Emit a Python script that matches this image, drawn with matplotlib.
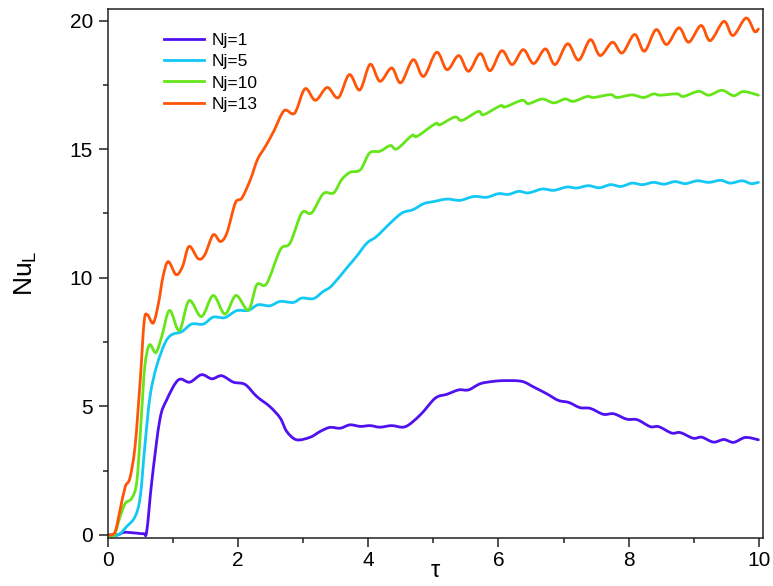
import numpy as np
import matplotlib
matplotlib.use("Agg")
import matplotlib.pyplot as plt
from matplotlib.path import Path
from matplotlib.patches import PathPatch
from matplotlib.lines import Line2D

plt.rcParams['font.family'] = ['Liberation Sans', 'DejaVu Sans']
plt.rcParams['mathtext.fontset'] = 'custom'
plt.rcParams['mathtext.rm'] = 'Liberation Sans'

# ---- data: time tau and Nusselt number for each jet count ----
tau_nj1 = [0.0, 0.15, 0.25, 0.4, 0.55, 0.6, 0.68, 0.80, 0.906, 1.085, 1.26, 1.44, 1.6, 1.75, 1.93,
           2.11, 2.29, 2.49, 2.65, 2.75, 2.9, 3.11, 3.26, 3.41, 3.57, 3.72, 3.88, 4.03, 4.18,
           4.36, 4.57, 4.80, 5.03, 5.21, 5.39, 5.54, 5.72, 5.92, 6.10, 6.36, 6.54, 6.74, 6.92,
           7.08, 7.25, 7.41, 7.61, 7.77, 7.97, 8.13, 8.33, 8.46, 8.66, 8.79, 8.99, 9.12, 9.30,
           9.46, 9.61, 9.79, 9.99]
nu_nj1 = [0.0, 0.0, 0.1, 0.08, 0.05, 0.15, 2.14, 4.47, 5.25, 6.03, 5.94, 6.23, 6.07, 6.19, 5.94,
          5.85, 5.38, 4.99, 4.54, 4.02, 3.70, 3.80, 4.02, 4.18, 4.15, 4.28, 4.22, 4.25, 4.19,
          4.25, 4.21, 4.67, 5.32, 5.47, 5.64, 5.64, 5.88, 5.97, 6.00, 5.97, 5.75, 5.49, 5.23,
          5.15, 4.95, 4.92, 4.69, 4.71, 4.50, 4.48, 4.21, 4.21, 3.96, 3.98, 3.76, 3.80, 3.61,
          3.71, 3.60, 3.79, 3.70]

tau_nj5 = [0.0, 0.16, 0.29, 0.42, 0.50, 0.57, 0.65, 0.75, 0.88, 0.98, 1.14, 1.29, 1.47, 1.62,
           1.80, 1.98, 2.16, 2.31, 2.49, 2.65, 2.85, 2.98, 3.16, 3.31, 3.44, 3.67, 3.82, 3.98,
           4.13, 4.34, 4.52, 4.69, 4.85, 5.0, 5.21, 5.41, 5.62, 5.82, 6.0, 6.15, 6.31, 6.46,
           6.67, 6.85, 7.05, 7.20, 7.38, 7.55, 7.72, 7.88, 8.05, 8.21, 8.38, 8.54, 8.71, 8.87,
           9.05, 9.23, 9.41, 9.56, 9.74, 9.88, 9.99]
nu_nj5 = [0.0, 0.0, 0.32, 0.71, 1.49, 3.44, 5.38, 6.55, 7.46, 7.78, 7.91, 8.20, 8.20, 8.47,
          8.45, 8.72, 8.73, 8.95, 8.91, 9.08, 9.04, 9.21, 9.19, 9.47, 9.69, 10.38, 10.83, 11.35,
          11.61, 12.13, 12.52, 12.65, 12.88, 12.96, 13.06, 13.01, 13.16, 13.13, 13.27, 13.24, 13.36, 13.30,
          13.45, 13.40, 13.53, 13.49, 13.58, 13.50, 13.62, 13.55, 13.68, 13.62, 13.71, 13.64, 13.74, 13.66,
          13.77, 13.71, 13.79, 13.68, 13.77, 13.66, 13.71]

tau_nj10 = [0.0, 0.1, 0.19, 0.27, 0.37, 0.45, 0.52, 0.57, 0.64, 0.74, 0.83, 0.95, 1.10, 1.25,
            1.44, 1.62, 1.80, 1.97, 2.16, 2.29, 2.44, 2.65, 2.80, 2.98, 3.13, 3.31, 3.47, 3.59,
            3.72, 3.88, 4.02, 4.18, 4.34, 4.44, 4.67, 4.75, 5.03, 5.10, 5.33, 5.44, 5.69, 5.77,
            6.03, 6.10, 6.36, 6.46, 6.67, 6.85, 7.02, 7.15, 7.36, 7.46, 7.72, 7.82, 8.05, 8.23,
            8.38, 8.48, 8.74, 8.84, 9.07, 9.23, 9.43, 9.61, 9.76, 9.99]
nu_nj10 = [0.0, 0.0, 0.71, 1.23, 1.43, 2.14, 4.73, 6.55, 7.39, 7.09, 7.72, 8.73, 7.95, 9.11,
           8.49, 9.31, 8.59, 9.31, 8.75, 9.73, 9.77, 11.09, 11.35, 12.52, 12.52, 13.27, 13.30, 13.81,
           14.10, 14.20, 14.85, 14.92, 15.14, 15.01, 15.53, 15.50, 15.99, 15.95, 16.25, 16.12, 16.47, 16.34,
           16.69, 16.64, 16.90, 16.77, 16.95, 16.80, 16.95, 16.86, 17.05, 17.01, 17.12, 17.01, 17.11, 17.01,
           17.15, 17.10, 17.15, 17.05, 17.25, 17.10, 17.29, 17.08, 17.24, 17.10]

tau_nj13 = [0.0, 0.11, 0.19, 0.27, 0.34, 0.42, 0.50, 0.56, 0.61, 0.70, 0.78, 0.85, 0.93, 1.05,
            1.15, 1.25, 1.39, 1.49, 1.62, 1.73, 1.83, 1.96, 2.06, 2.19, 2.30, 2.42, 2.55, 2.71,
            2.87, 3.03, 3.19, 3.37, 3.54, 3.71, 3.87, 4.03, 4.18, 4.36, 4.50, 4.69, 4.85, 5.05,
            5.21, 5.39, 5.54, 5.72, 5.87, 6.05, 6.21, 6.38, 6.54, 6.72, 6.87, 7.06, 7.23, 7.41,
            7.56, 7.75, 7.90, 8.09, 8.24, 8.42, 8.58, 8.77, 8.92, 9.11, 9.25, 9.46, 9.60, 9.80,
            9.93, 9.99]
nu_nj13 = [0.0, 0.1, 0.97, 1.88, 2.2, 3.44, 6.03, 8.30, 8.56, 8.24, 9.01, 10.05, 10.63, 10.12,
           10.44, 11.22, 10.74, 10.89, 11.67, 11.41, 11.74, 12.91, 13.10, 13.81, 14.60, 15.10, 15.70, 16.50,
           16.40, 17.35, 16.90, 17.40, 17.00, 17.90, 17.30, 18.30, 17.64, 18.16, 17.58, 18.48, 17.83, 18.77,
           18.09, 18.64, 18.03, 18.72, 18.05, 18.83, 18.29, 18.87, 18.33, 18.90, 18.29, 19.10, 18.46, 19.26,
           18.64, 19.16, 18.74, 19.46, 18.81, 19.65, 19.07, 19.72, 19.16, 19.81, 19.22, 19.97, 19.42, 20.10,
           19.58, 19.67]

labels = ['Nj=1', 'Nj=5', 'Nj=10', 'Nj=13']
colors = ['#5010F0', '#12C8F5', '#66E61A', '#FF5508']
series = [(tau_nj1, nu_nj1), (tau_nj5, nu_nj5), (tau_nj10, nu_nj10), (tau_nj13, nu_nj13)]


def smooth_path(x, y):
    """Cubic Bezier path through the points (Catmull-Rom tangents)."""
    p = np.column_stack([x, y]).astype(float)
    n = len(p)
    verts = [p[0]]
    codes = [Path.MOVETO]
    for i in range(n - 1):
        p0 = p[i - 1] if i > 0 else p[i]
        p1, p2 = p[i], p[i + 1]
        p3 = p[i + 2] if i + 2 < n else p[i + 1]
        c1 = p1 + (p2 - p0) / 6.0
        c2 = p2 - (p3 - p1) / 6.0
        verts += [c1, c2, p2]
        codes += [Path.CURVE4] * 3
    return Path(verts, codes)


fig = plt.figure(figsize=(7.73, 5.86), dpi=100)
ax = fig.add_axes([0.1393, 0.0819, 0.8477, 0.9027])

for (t, v), c in zip(series, colors):
    patch = PathPatch(smooth_path(t, v), facecolor='none', edgecolor=c, lw=2.0,
                      capstyle='round', joinstyle='round', transform=ax.transData)
    ax.add_patch(patch)

ax.set_xlim(0, 10.06)
ax.set_ylim(-0.12, 20.45)
ax.set_xticks([0, 2, 4, 6, 8, 10])
ax.set_xticks([1, 3, 5, 7, 9], minor=True)
ax.set_yticks([0, 5, 10, 15, 20])
ax.set_yticks([2.5, 7.5, 12.5, 17.5], minor=True)

for s in ax.spines.values():
    s.set_linewidth(1.1)
    s.set_color('#222222')

ax.tick_params(which='major', direction='out', length=6.5, width=1.1, labelsize=15,
               color='#222222')
ax.tick_params(which='minor', direction='out', length=3.8, width=1.1, color='#222222')
ax.tick_params(axis='x', which='major', pad=3)
ax.tick_params(axis='y', which='major', pad=4)

ax.set_xlabel('τ', fontsize=17, labelpad=-7)
ax.set_ylabel(r'Nu$_\mathregular{L}$', fontsize=19, labelpad=22)

handles = [Line2D([], [], color=c, lw=2.0) for c in colors]
ax.legend(handles, labels, loc='upper left', bbox_to_anchor=(0.076, 0.968), frameon=False,
          fontsize=12.5, handlelength=2.3, handletextpad=0.4, labelspacing=0.35,
          borderaxespad=0.0)

fig.savefig('out.png', dpi=100)
